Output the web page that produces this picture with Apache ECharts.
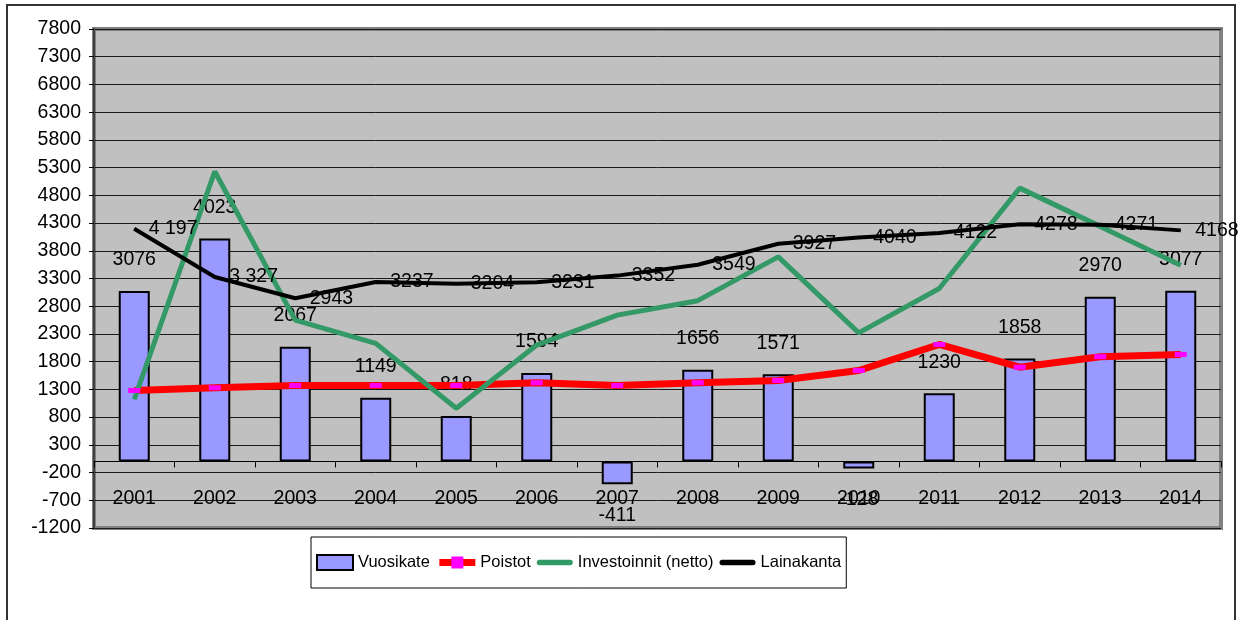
<!DOCTYPE html>
<html><head><meta charset="utf-8">
<script src="https://cdn.jsdelivr.net/npm/echarts@6/dist/echarts.min.js"></script>
<style>html,body{margin:0;padding:0;background:#fff}#c{width:1241px;height:620px}</style>
</head><body><div id="c"></div>
<script>
const years = ['2001','2002','2003','2004','2005','2006','2007','2008','2009','2010','2011','2012','2013','2014'];
const vuosikate = [3076,4023,2067,1149,818,1594,-411,1656,1571,-128,1230,1858,2970,3077];
const poistot = [1280,1330,1370,1370,1370,1420,1370,1420,1460,1640,2110,1700,1890,1930];
const investoinnit = [1120,5230,2550,2130,960,2100,2640,2900,3690,2320,3120,4930,4240,3540];
const lainakanta = [4197,3327,2943,3237,3204,3231,3352,3549,3927,4040,4122,4278,4271,4168];
const lainakantaLabels = ['4 197','3 327','2943','3237','3204','3231','3352','3549','3927','4040','4122','4278','4271','4168'];
const yTicks = [-1200,-700,-200,300,800,1300,1800,2300,2800,3300,3800,4300,4800,5300,5800,6300,6800,7300,7800];
const seriesNames = ['Vuosikate','Poistot','Investoinnit (netto)','Lainakanta'];

const FONT = "'Liberation Sans','Arial',sans-serif";
const FS = 19.5;
const LINE_ICON = 'path://M3,0h34a3,3 0 0 1 0,6h-34a3,3 0 0 1 0,-6z';

const chart = echarts.init(document.getElementById('c'), null, {renderer:'canvas'});
chart.setOption({
  animation: false,
  textStyle: {fontFamily: FONT},
  graphic: [{
    type: 'rect', silent: true, z: -1,
    shape: {x: 7, y: 5, width: 1228, height: 640},
    style: {fill: 'none', stroke: '#333', lineWidth: 2}
  }],
  grid: {
    left: 94, right: 20, top: 29, bottom: 92,
    show: true, backgroundColor: '#C0C0C0', borderColor: '#808080', borderWidth: 4
  },
  legend: {
    left: 311, top: 537,
    itemWidth: 36, itemHeight: 15, itemGap: 6,
    padding: [17, 5],
    borderColor: '#000', borderWidth: 1, backgroundColor: '#fff',
    lineStyle: {width: 'inherit'},
    textStyle: {fontFamily: FONT, fontSize: 16.5, color: '#000'},
    data: [
      {name: seriesNames[0], icon: 'rect'},
      {name: seriesNames[1]},
      {name: seriesNames[2], icon: LINE_ICON, itemStyle: {color: '#339966'}},
      {name: seriesNames[3], icon: LINE_ICON, itemStyle: {color: '#000'}}
    ]
  },
  xAxis: {
    type: 'category', data: years,
    axisLine: {onZero: true, lineStyle: {color: '#000', width: 1}},
    axisTick: {show: true, length: 6, inside: false, lineStyle: {color: '#000'}},
    axisLabel: {interval: 0, margin: -39, fontFamily: FONT, fontSize: FS, color: '#000'},
    splitLine: {show: false}
  },
  yAxis: {
    type: 'value', min: -1200, max: 7800,
    axisLine: {show: true, lineStyle: {color: '#404040', width: 2}},
    axisTick: {show: true, length: 5, customValues: yTicks, lineStyle: {color: '#000'}},
    axisLabel: {customValues: yTicks, margin: 13, fontFamily: FONT, fontSize: FS, color: '#000',
      formatter: v => String(v)},
    splitLine: {show: true, lineStyle: {color: '#1a1a1a', width: 1}}
  },
  series: [
    {
      name: seriesNames[0], type: 'bar', barWidth: 31,
      itemStyle: {color: '#9999FF', borderColor: '#000', borderWidth: 2},
      label: {show: true, position: 'top', distance: 21, fontFamily: FONT, fontSize: FS, color: '#000'},
      data: vuosikate.map(v => v < 0 ? {value: v, label: {position: 'bottom'}} : v)
    },
    {
      name: seriesNames[1], type: 'line',
      symbol: 'rect', symbolSize: [12, 5],
      itemStyle: {color: '#FF00FF'},
      lineStyle: {color: '#FF0000', width: 7},
      data: poistot
    },
    {
      name: seriesNames[2], type: 'line', symbol: 'none',
      itemStyle: {color: '#339966'},
      lineStyle: {color: '#339966', width: 5},
      data: investoinnit
    },
    {
      name: seriesNames[3], type: 'line', symbol: 'circle', symbolSize: 1,
      itemStyle: {color: '#000'},
      lineStyle: {color: '#000', width: 4},
      label: {show: true, position: 'right', distance: 14, fontFamily: FONT, fontSize: FS, color: '#000',
        formatter: p => lainakantaLabels[p.dataIndex]},
      data: lainakanta
    }
  ]
});
</script></body></html>
